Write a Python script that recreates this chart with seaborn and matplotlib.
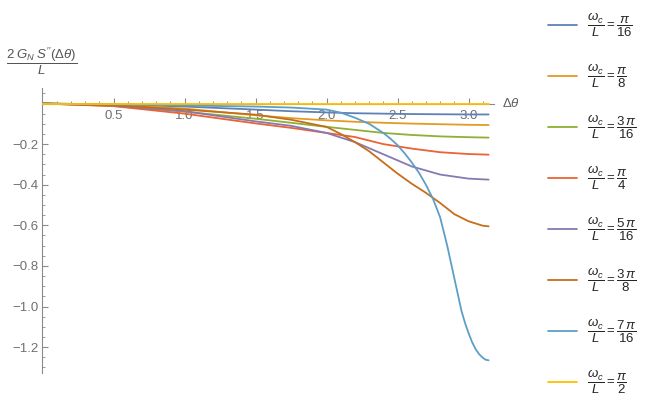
import numpy as np
import pandas as pd
import matplotlib
matplotlib.use("Agg")
import matplotlib.pyplot as plt
import seaborn as sns
from matplotlib.ticker import MultipleLocator, FixedLocator

# values
x_coarse = [0, 0.5, 1.0, 1.5, 1.75, 2.0, 2.2, 2.4, 2.6, 2.8, 3.0, np.pi]
s_pi16 = [0, -0.005, -0.015, -0.03, -0.038, -0.044, -0.048, -0.05, -0.052, -0.053, -0.054, -0.054]
s_pi8 = [0, -0.007, -0.025, -0.058, -0.072, -0.083, -0.09, -0.095, -0.099, -0.102, -0.105, -0.106]
s_3pi16 = [0, -0.012, -0.04, -0.075, -0.095, -0.115, -0.13, -0.145, -0.155, -0.162, -0.166, -0.168]
s_pi4 = [0, -0.013, -0.05, -0.098, -0.12, -0.145, -0.165, -0.2, -0.222, -0.24, -0.249, -0.252]
s_5pi16 = [0, -0.01, -0.038, -0.088, -0.11, -0.145, -0.19, -0.25, -0.31, -0.35, -0.37, -0.375]
s_pi2 = [0, 0, 0, 0, 0, 0, 0, 0, 0, 0, 0, 0]

x_3pi8 = [0, 0.5, 1.0, 1.5, 1.75, 2.0, 2.1, 2.2, 2.3, 2.4, 2.5, 2.6, 2.7, 2.8, 2.9, 3.0, 3.1, np.pi]
s_3pi8 = [0, -0.008, -0.03, -0.055, -0.08, -0.115, -0.15, -0.19, -0.235, -0.29, -0.345, -0.395,
          -0.44, -0.49, -0.545, -0.58, -0.602, -0.605]

x_7pi16 = [0, 0.5, 1.0, 1.5, 1.75, 2.0, 2.1, 2.2, 2.3, 2.4, 2.45, 2.5, 2.55, 2.6, 2.65, 2.7,
           2.75, 2.8, 2.85, 2.9, 2.925, 2.95, 2.975, 3.0, 3.025, 3.05, 3.075, 3.1, 3.12, np.pi]
s_7pi16 = [0, -0.004, -0.01, -0.015, -0.02, -0.03, -0.045, -0.07, -0.1, -0.145, -0.173, -0.205,
           -0.245, -0.29, -0.34, -0.4, -0.47, -0.56, -0.7, -0.86, -0.94, -1.02, -1.08, -1.13,
           -1.175, -1.21, -1.235, -1.252, -1.262, -1.265]

labels = [r"$\dfrac{\omega_c}{L} = \dfrac{\pi}{16}$", r"$\dfrac{\omega_c}{L} = \dfrac{\pi}{8}$",
          r"$\dfrac{\omega_c}{L} = \dfrac{3\,\pi}{16}$", r"$\dfrac{\omega_c}{L} = \dfrac{\pi}{4}$",
          r"$\dfrac{\omega_c}{L} = \dfrac{5\,\pi}{16}$", r"$\dfrac{\omega_c}{L} = \dfrac{3\,\pi}{8}$",
          r"$\dfrac{\omega_c}{L} = \dfrac{7\,\pi}{16}$", r"$\dfrac{\omega_c}{L} = \dfrac{\pi}{2}$"]
colors = ["#5E81B5", "#E19C24", "#8FB032", "#EB6235", "#8778B3", "#C56E1A", "#5D9EC7", "#FFBF00"]

series = [(x_coarse, s_pi16), (x_coarse, s_pi8), (x_coarse, s_3pi16), (x_coarse, s_pi4),
          (x_coarse, s_5pi16), (x_3pi8, s_3pi8), (x_7pi16, s_7pi16), (x_coarse, s_pi2)]

rows = []
for lab, (xs, ys) in zip(labels, series):
    for a, b in zip(xs, ys):
        rows.append((a, b, lab))
df = pd.DataFrame(rows, columns=["x", "y", "wc"])

sns.set_style("white")
plt.rcParams["font.family"] = ["Liberation Sans", "DejaVu Sans"]
plt.rcParams["mathtext.fontset"] = "custom"
plt.rcParams["mathtext.rm"] = "Liberation Sans"
plt.rcParams["mathtext.it"] = "Liberation Sans:italic"

fig = plt.figure(figsize=(6.54, 4.16), dpi=100)
W, H = 654, 416
x0, x1 = 42.5, 494
ytop, ybot = 88, 373
ax = fig.add_axes([x0 / W, 1 - ybot / H, (x1 - x0) / W, (ybot - ytop) / H])

sns.lineplot(data=df, x="x", y="y", hue="wc", hue_order=labels, palette=colors,
             estimator=None, sort=False, linewidth=1.3, ax=ax, zorder=3)

ax.set_xlim(0, (x1 - x0) / 142)
ax.set_ylim((103.5 - ybot) / 203, (103.5 - ytop) / 203)
ax.set_xlabel("")
ax.set_ylabel("")

axcol = "#8a8a8a"
for s in ["top", "right"]:
    ax.spines[s].set_visible(False)
ax.spines["bottom"].set_position(("data", 0))
ax.spines["bottom"].set_color(axcol)
ax.spines["left"].set_color(axcol)
ax.spines["bottom"].set_zorder(1)

ax.xaxis.set_major_locator(FixedLocator([0.5, 1.0, 1.5, 2.0, 2.5, 3.0]))
ax.xaxis.set_minor_locator(MultipleLocator(0.1))
ax.yaxis.set_major_locator(FixedLocator([-0.2, -0.4, -0.6, -0.8, -1.0, -1.2]))
ax.yaxis.set_minor_locator(MultipleLocator(0.05))
ax.set_xticklabels(["0.5", "1.0", "1.5", "2.0", "2.5", "3.0"])
ax.set_yticklabels(["\u22120.2", "\u22120.4", "\u22120.6", "\u22120.8", "\u22121.0", "\u22121.2"])
ax.tick_params(which="both", bottom=True, left=True, direction="in", color=axcol)
ax.tick_params(which="major", length=4, width=0.8, labelcolor="#707070", labelsize=9.5)
ax.tick_params(which="minor", length=2.2, width=0.6)
ax.tick_params(axis="x", which="major", pad=5)
ax.tick_params(axis="y", which="major", pad=3)

ax.text(3.235, 0, r"$\Delta\theta$", color="#606060", fontsize=9.5, ha="left", va="center",
        clip_on=False)
fig.text(42 / W, 1 - 61 / H, r"$\dfrac{2\;G_N\;S^{\prime\prime}(\Delta\theta)}{L}$",
         color="#555555", fontsize=9.5, ha="center", va="center")

sns.move_legend(ax, loc="upper left", bbox_to_anchor=(541 / W, 1 - 5 / H),
                bbox_transform=fig.transFigure, frameon=False, title=None, fontsize=9.5,
                handlelength=2.2, handletextpad=0.8, labelspacing=1.8, borderpad=0)

fig.savefig("out.png", dpi=100)
